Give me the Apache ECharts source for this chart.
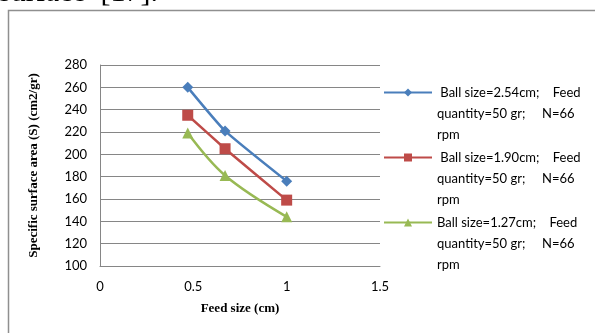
<!DOCTYPE html>
<html>
<head>
<meta charset="utf-8">
<script src="https://cdn.jsdelivr.net/npm/echarts@6/dist/echarts.min.js"></script>
<style>
  html, body { margin: 0; padding: 0; background: #fff; }
  #chart { width: 595px; height: 333px; }
</style>
</head>
<body>
<div id="chart"></div>
<script>
// Feed size (cm) for each measurement
const feedSize = [0.47, 0.67, 1.0];

// Specific surface area (cm2/gr) per ball size
const ball254 = [260, 221, 176];
const ball190 = [235, 205, 159];
const ball127 = [219, 181, 144];

const seriesNames = [
  ' Ball size=2.54cm;    Feed\nquantity=50 gr;     N=66\nrpm',
  ' Ball size=1.90cm;    Feed\nquantity=50 gr;     N=66\nrpm',
  'Ball size=1.27cm;    Feed\nquantity=50 gr;     N=66\nrpm'
];

const xTicks = { min: 0, max: 1.5, interval: 0.5 };
const yTicks = { min: 100, max: 280, interval: 20 };

const colors = ['#4A7EBB', '#BE4B48', '#98B954'];
const symbols = ['diamond', 'rect', 'triangle'];
const symbolSizes = [11, 11, 11];
const smoothness = [0.15, 0.1, 0.35];

function pairs(values) {
  return feedSize.map((x, i) => [x, values[i]]);
}

const allValues = [ball254, ball190, ball127];

// legend text lines are 21px apart; the legend centres a label block on its
// icon, so two empty lines in front put the first text line level with the icon
const legendLine = 21;

const chart = echarts.init(document.getElementById('chart'), null, { renderer: 'canvas' });

chart.setOption({
  animation: false,
  backgroundColor: '#ffffff',
  grid: { left: 100, right: 215, top: 65, bottom: 67 },
  graphic: [
    {
      type: 'rect',
      shape: { x: 8.5, y: 10.5, width: 640, height: 400 },
      style: { fill: 'none', stroke: '#8f8f8f', lineWidth: 1.5 },
      silent: true
    },
    {
      type: 'text',
      left: -1,
      top: -22,
      style: {
        text: 'surface  [17].',
        font: '30px "Liberation Serif", "DejaVu Serif", serif',
        fill: '#000'
      },
      silent: true
    }
  ],
  legend: {
    orient: 'vertical',
    left: 383,
    top: 40,
    padding: 0,
    itemWidth: 48,
    itemHeight: 10,
    itemGap: 65 - 5 * legendLine,
    data: seriesNames,
    formatter: name => '\n\n' + name,
    textStyle: {
      fontFamily: 'Lato, "Open Sans", sans-serif',
      fontSize: 13,
      color: '#000',
      lineHeight: legendLine
    }
  },
  xAxis: {
    type: 'value',
    min: xTicks.min,
    max: xTicks.max,
    interval: xTicks.interval,
    name: 'Feed size (cm)',
    nameLocation: 'middle',
    nameGap: 36,
    nameTextStyle: {
      fontFamily: '"Liberation Serif", "DejaVu Serif", serif',
      fontWeight: 'bold',
      fontSize: 13,
      color: '#000'
    },
    axisLine: { show: true, lineStyle: { color: '#868686', width: 1 } },
    axisTick: { show: false },
    splitLine: { show: false },
    axisLabel: {
      fontFamily: 'Lato, "Open Sans", sans-serif',
      fontSize: 13,
      color: '#000',
      margin: 14
    }
  },
  yAxis: {
    type: 'value',
    min: yTicks.min,
    max: yTicks.max,
    interval: yTicks.interval,
    name: 'Specific surface area (S) (cm2/gr)',
    nameLocation: 'middle',
    nameGap: 60,
    nameTextStyle: {
      fontFamily: '"Liberation Serif", "DejaVu Serif", serif',
      fontWeight: 'bold',
      fontSize: 13,
      color: '#000'
    },
    axisLine: { show: true, lineStyle: { color: '#868686', width: 1 } },
    axisTick: { show: false },
    splitLine: { show: true, lineStyle: { color: '#868686', width: 1 } },
    axisLabel: {
      fontFamily: 'Lato, "Open Sans", sans-serif',
      fontSize: 13,
      color: '#000',
      margin: 13
    }
  },
  series: seriesNames.map((name, i) => ({
    name: name,
    type: 'line',
    data: pairs(allValues[i]),
    smooth: smoothness[i],
    symbol: symbols[i],
    symbolSize: symbolSizes[i],
    showAllSymbol: true,
    lineStyle: { color: colors[i], width: 2.5 },
    itemStyle: { color: colors[i], borderWidth: 0 }
  }))
});
</script>
</body>
</html>
